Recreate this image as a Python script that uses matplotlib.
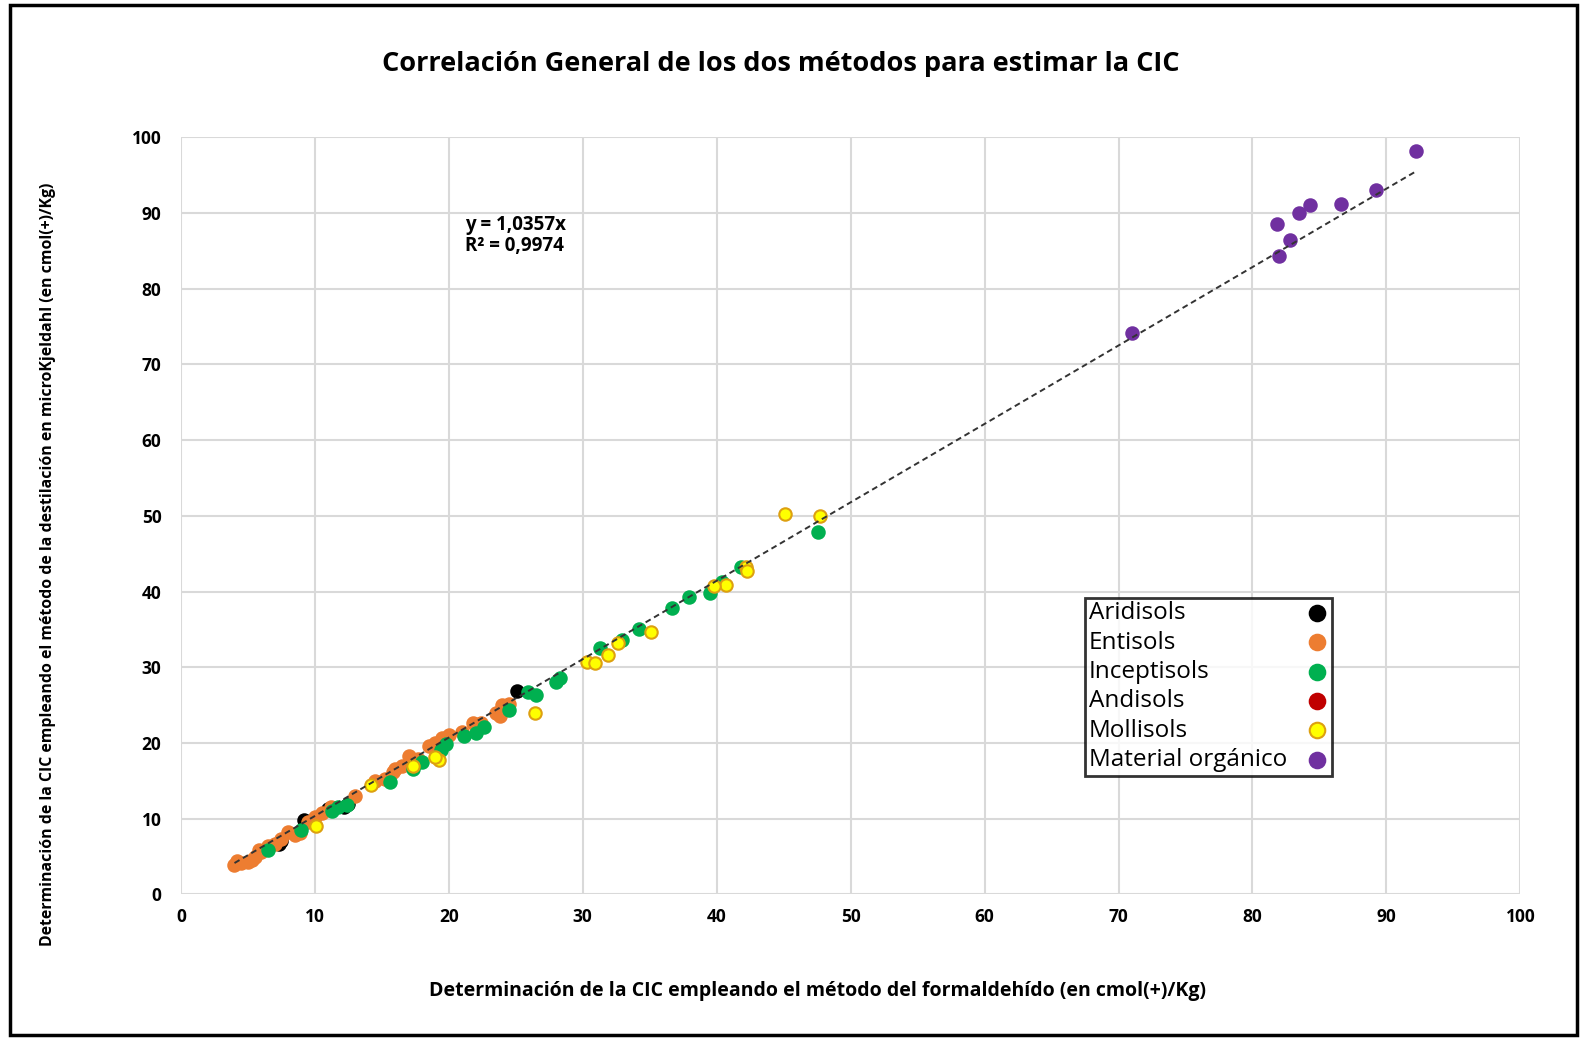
import matplotlib
matplotlib.use("Agg")
import matplotlib.pyplot as plt
from matplotlib.patches import Rectangle
import numpy as np

plt.rcParams['font.family'] = ['Open Sans', 'DejaVu Sans']

title = "Correlación General de los dos métodos para estimar la CIC"
xlabel = "Determinación de la CIC empleando el método del formaldehído (en cmol(+)/Kg)"
ylabel = "Determinación de la CIC empleando el método de la destilación en microKjeldahl (en cmol(+)/Kg)"
equation = "y = 1,0357x\nR² = 0,9974"
slope = 1.0357

aridisols_x = [25.1, 12.5, 12.2, 11.0, 9.2, 7.5, 7.3]
aridisols_y = [26.8, 12.0, 11.6, 11.3, 9.8, 7.0, 6.7]

entisols_x = [4.0, 4.5, 5.0, 5.3, 5.5, 6.0, 6.5, 7.0, 7.5, 8.0, 8.5, 8.9, 9.5, 10.0,
              10.5, 11.2, 13.0, 14.5, 15.2, 15.8, 16.0, 16.5, 17.0, 17.5, 17.7, 18.5,
              19.0, 19.5, 20.0, 21.0, 21.8, 22.4, 23.5, 23.8, 24.0, 24.5, 4.2, 5.8]
entisols_y = [3.9, 4.1, 4.3, 4.6, 5.0, 5.6, 6.4, 6.7, 7.3, 8.3, 7.9, 8.1, 9.5, 10.2,
              10.7, 11.5, 13.0, 15.0, 15.3, 16.2, 16.5, 16.9, 18.3, 17.2, 17.9, 19.6,
              20.0, 20.6, 21.0, 21.5, 22.6, 22.7, 24.0, 23.5, 25.0, 25.1, 4.4, 5.9]

inceptisols_x = [47.6, 41.8, 40.4, 39.5, 37.9, 36.7, 34.2, 32.9, 31.3, 28.3, 28.0,
                 26.5, 25.9, 24.5, 22.6, 22.0, 21.1, 19.8, 19.4, 18.0, 17.3, 15.6,
                 12.4, 11.7, 11.3, 9.0, 6.5]
inceptisols_y = [47.8, 43.3, 41.2, 39.8, 39.3, 37.8, 35.0, 33.6, 32.6, 28.6, 28.0,
                 26.4, 26.7, 24.3, 22.1, 21.3, 20.9, 19.9, 19.1, 17.5, 16.5, 14.8,
                 11.8, 11.6, 11.0, 8.5, 5.9]

andisols_x = []
andisols_y = []

mollisols_x = [45.1, 47.7, 42.2, 42.3, 40.7, 39.8, 35.1, 32.6, 31.9, 30.3, 30.9,
               26.4, 19.3, 19.0, 17.3, 14.2, 10.1]
mollisols_y = [50.3, 50.0, 43.2, 42.7, 40.9, 40.7, 34.6, 33.2, 31.6, 30.7, 30.6,
               23.9, 17.8, 18.2, 16.9, 14.4, 9.1]

organico_x = [71.0, 81.8, 82.0, 82.8, 83.5, 84.3, 86.6, 89.2, 92.2]
organico_y = [74.2, 88.5, 84.3, 86.4, 90.0, 91.0, 91.2, 93.0, 98.2]

series = [
    ("Aridisols", aridisols_x, aridisols_y, "#000000", "#000000"),
    ("Entisols", entisols_x, entisols_y, "#ED7D31", "#ED7D31"),
    ("Inceptisols", inceptisols_x, inceptisols_y, "#00B050", "#00B050"),
    ("Andisols", andisols_x, andisols_y, "#C00000", "#C00000"),
    ("Mollisols", mollisols_x, mollisols_y, "#FFFF00", "#DDA010"),
    ("Material orgánico", organico_x, organico_y, "#7030A0", "#7030A0"),
]

DPI = 100
fig = plt.figure(figsize=(15.87, 10.40), dpi=DPI)
fig.patches.append(Rectangle((0.006, 0.005), 0.988, 0.99, transform=fig.transFigure,
                             fill=False, edgecolor="black", linewidth=2.5))
ax = fig.add_axes([0.114, 0.140, 0.844, 0.728])

for name, xs, ys, fc, ec in series:
    ax.scatter(xs, ys, s=80, c=fc, edgecolors=ec, linewidths=1.5, label=name, zorder=3)

all_x = np.concatenate([np.asarray(s[1], float) for s in series if len(s[1])])
xl = np.array([all_x.min(), all_x.max()])
ax.plot(xl, slope * xl, linestyle=(0, (3, 2)), color="#333333", linewidth=1.4, zorder=4)

ax.set_xlim(0, 100)
ax.set_ylim(0, 100)
ax.set_xticks(np.arange(0, 101, 10))
ax.set_yticks(np.arange(0, 101, 10))
ax.grid(True, color="#D9D9D9", linewidth=1.5)
ax.set_axisbelow(True)
for sp in ax.spines.values():
    sp.set_visible(False)
ax.tick_params(length=0, labelsize=12.5)
ax.tick_params(axis='y', pad=14)
ax.tick_params(axis='x', pad=10)
for lab in ax.get_xticklabels() + ax.get_yticklabels():
    lab.set_fontweight("bold")

ax.text(21.2, 87.0, equation, fontsize=13.5, fontweight="bold", va="center", ha="left",
        linespacing=1.1)

fig.text(0.492, 0.938, title, fontsize=19.5, fontweight="bold", ha="center", va="center")
fig.text(0.515, 0.047, xlabel, fontsize=14, fontweight="bold", ha="center", va="center")
fig.text(0.030, 0.457, ylabel, fontsize=11.4, fontweight="bold", ha="center", va="center",
         rotation=90)

leg = ax.legend(loc="upper left", bbox_to_anchor=(0.675, 0.392), markerfirst=False,
                fontsize=17.5, frameon=True, fancybox=False, edgecolor="black",
                borderpad=0.15, labelspacing=0.22, handletextpad=0.75,
                handlelength=0.95, borderaxespad=0.0, markerscale=1.25)
leg.get_frame().set_linewidth(2)
leg.set_zorder(10)

# left-align the labels while keeping markers on the right
fig.canvas.draw()
renderer = fig.canvas.get_renderer()
texts = leg.get_texts()
widths = [t.get_window_extent(renderer).width for t in texts]
maxw = max(widths)
items = []
for col in leg._legend_handle_box.get_children():
    items.extend(col.get_children())
for hp, w in zip(items, widths):
    hp.sep = hp.sep + (maxw - w) * 72.0 / DPI

fig.savefig("out.png", dpi=DPI)
